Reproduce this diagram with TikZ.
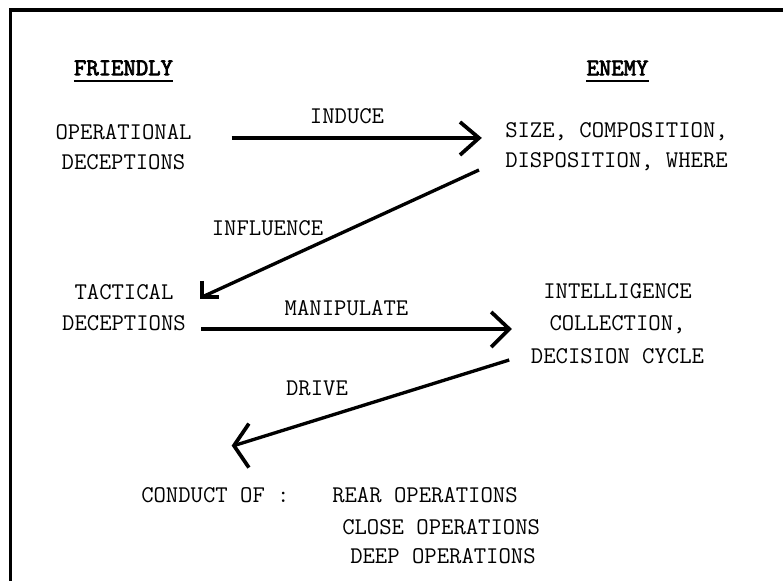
\documentclass[tikz,border=0pt]{standalone}
\usepackage{fontspec}
\newfontfamily\tmb[FakeBold=3]{lmmono12-regular.otf}
\usetikzlibrary{calc}
\tikzset{
  txt/.style={font=\ttfamily\fontsize{18}{22.5}\selectfont, inner sep=0pt, align=center},
  hdr/.style={txt, font=\tmb\fontsize{18}{22.5}\selectfont},
  ul/.style={line width=1.6pt},
  arr/.style={line width=2.5pt},
  hd/.style={line width=2.8pt, line join=miter},
  frame/.style={line width=2.6pt}
}
\begin{document}
\begin{tikzpicture}[x=0.75pt,y=0.75pt]
\useasboundingbox (0,0) rectangle (783,-581);
\draw[frame] (10.5,-581) -- (10.5,-10) -- (785,-10);

% headers
\node[hdr] (fr) at (123.5,-68) {FRIENDLY};
\node[hdr] (en) at (617.5,-68) {ENEMY};
\draw[ul] ($(fr.base west)+(0,-6)$) -- ($(fr.base east)+(0,-6)$);
\draw[ul] ($(en.base west)+(0,-6)$) -- ($(en.base east)+(0,-6)$);

% blocks
\node[txt] (op) at (123.5,-147) {OPERATIONAL\\DECEPTIONS};
\node[txt] (se) at (616.5,-147) {SIZE, COMPOSITION,\\DISPOSITION, WHERE};
\node[txt, font=\ttfamily\fontsize{18}{23.25}\selectfont] (tc) at (124,-307.5) {TACTICAL\\DECEPTIONS};
\node[txt, font=\ttfamily\fontsize{18}{24.4}\selectfont] (ic) at (617.5,-323.5) {INTELLIGENCE\\COLLECTION,\\DECISION CYCLE};

\node[txt, anchor=west] (co) at (141,-495) {CONDUCT OF :};
\node[txt, anchor=west] (ro) at (332,-495) {REAR OPERATIONS};
\node[txt, anchor=west] (cl) at (342,-527) {CLOSE OPERATIONS};
\node[txt, anchor=west] (dp) at (350,-556) {DEEP OPERATIONS};

% labels
\node[txt] (l1) at (347,-116) {INDUCE};
\node[txt] (l2) at (267.5,-228) {INFLUENCE};
\node[txt] (l3) at (346.5,-308) {MANIPULATE};
\node[txt] (l4) at (317,-388) {DRIVE};

% INDUCE
\coordinate (a1s) at ($(op.east)+(40,9)$);
\coordinate (a1t) at ($(se.west)+(-26,9)$);
\draw[arr] (a1s) -- (a1t);
\draw[hd] ($(a1t)+(-19,16)$) -- (a1t) -- ($(a1t)+(-19,-17)$);

% INFLUENCE
\coordinate (a2s) at ($(se.west)+(-26,-23)$);
\coordinate (a2t) at ($(tc.east)+(16,10.5)$);
\draw[arr] (a2s) -- (a2t);
\draw[hd] ($(a2t)+(0,16)$) -- (a2t) -- ($(a2t)+(17,0)$);

% MANIPULATE
\coordinate (a3s) at ($(tc.east)+(15,-21.5)$);
\coordinate (a3t) at ($(ic.west)+(-21.5,-5.5)$);
\draw[arr] (a3s) -- (a3t);
\draw[hd] ($(a3t)+(-18,17)$) -- (a3t) -- ($(a3t)+(-18,-18)$);

% DRIVE
\coordinate (a4s) at ($(ic.west)+(-21.5,-36.5)$);
\coordinate (a4t) at ($(co.north)+(18.5,41.5)$);
\draw[arr] (a4s) -- (a4t);
\draw[hd] ($(a4t)+(15,22)$) -- (a4t) -- ($(a4t)+(15,-22)$);
\end{tikzpicture}
\end{document}
